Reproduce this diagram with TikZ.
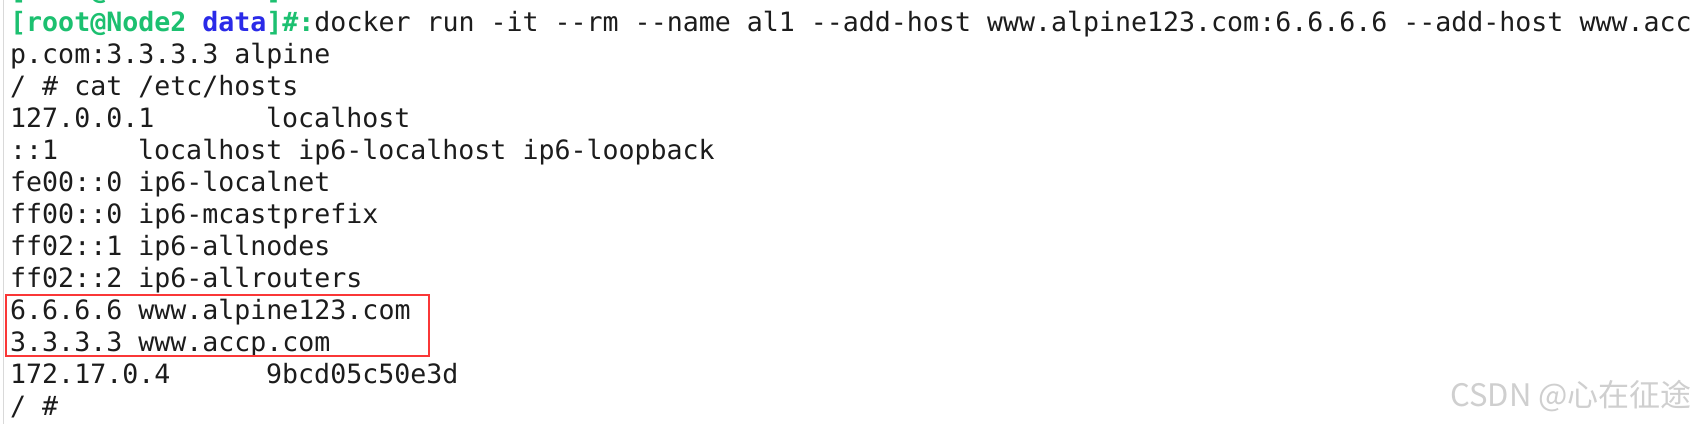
\documentclass[tikz,border=0pt]{standalone}
\usepackage{fontspec}
\setmonofont{DejaVu Sans Mono}
\newfontfamily\cjk{Noto Sans CJK SC}
\frenchspacing
\definecolor{promptgreen}{RGB}{28,192,112}
\definecolor{promptblue}{RGB}{42,42,232}
\definecolor{termtext}{RGB}{28,28,28}
\definecolor{markred}{RGB}{250,55,55}
\tikzset{
  termline/.style={anchor=base west, inner sep=0pt, text=termtext,
    font=\ttfamily\fontsize{26.6}{32}\selectfont},
  markbox/.style={draw=markred, line width=2.6pt},
}
\newcommand{\rootprompt}{\textbf{\textcolor{promptgreen}{[root@Node2 }\textcolor{promptblue}{data}\textcolor{promptgreen}{]\#:}}}

\begin{document}
\begin{tikzpicture}[x=1pt,y=1pt]
    \useasboundingbox (0,0) rectangle (1699,-424);
    \fill[white] (0,0) rectangle (1699,-424);
    \clip (0,0) rectangle (1699,-424);
    \draw[gray!30, line width=1pt] (3,0) -- (3,-424);
    % previous prompt, cut off at the top
    \node[termline] (prev) at (10,1) {\rootprompt};
    \node[termline] (cmd) at (10,-31) {\rootprompt docker run -it --rm --name al1 --add-host www.alpine123.com:6.6.6.6 --add-host www.acc};
    \node[termline] (cont) at (10,-63) {p.com:3.3.3.3 alpine};
    \node[termline] (cat) at (10,-95) {/ \# cat /etc/hosts};
    \node[termline] (lo4) at (10,-127) {127.0.0.1};
    \node[termline] (lo4h) at (266,-127) {localhost};
    \node[termline] (lo6) at (10,-159) {::1};
    \node[termline] (lo6h) at (138,-159) {localhost ip6-localhost ip6-loopback};
    \node[termline] (lnet) at (10,-191) {fe00::0 ip6-localnet};
    \node[termline] (mcast) at (10,-223) {ff00::0 ip6-mcastprefix};
    \node[termline] (alln) at (10,-255) {ff02::1 ip6-allnodes};
    \node[termline] (allr) at (10,-287) {ff02::2 ip6-allrouters};
    \node[termline] (alp) at (10,-319) {6.6.6.6 www.alpine123.com};
    \node[termline] (accp) at (10,-351) {3.3.3.3 www.accp.com};
    \node[termline] (self) at (10,-383) {172.17.0.4};
    \node[termline] (selfh) at (266,-383) {9bcd05c50e3d};
    \node[termline] (prm) at (10,-415) {/ \#};
    % added hosts
    \draw[markbox] (6,-295) rectangle (429,-356);
    % watermark
    \node[anchor=base east, inner sep=0pt, text=gray!38, font=\cjk\fontsize{31}{36}\selectfont]
        (mark) at (1692,-406) {CSDN @心在征途};
\end{tikzpicture}
\end{document}
